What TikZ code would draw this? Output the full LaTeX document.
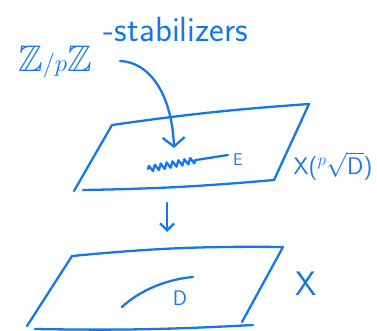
\documentclass[tikz,border=0pt]{standalone}
\usepackage{amssymb}
\usetikzlibrary{arrows.meta,decorations.pathmorphing}
\definecolor{pen}{RGB}{22,120,232}
\tikzset{
  ink/.style={color=pen, line width=2.3pt, line cap=round, line join=round},
  barb/.style={-{Straight Barb[length=9pt,width=22pt,line width=2.3pt]}}
}
\begin{document}
\begin{tikzpicture}[x=1pt,y=-1pt,ink]
    \useasboundingbox (0,0) rectangle (377,331);
    % upper sheet
    \coordinate (ul) at (112,125);
    \coordinate (ur) at (309,104);
    \coordinate (lr) at (274,180);
    \coordinate (ll) at (74,191);
    \draw (ll) -- (ul) to[bend left=2] (ur) -- (lr);
    \draw (83,190) to[bend right=2] (lr);
    % lower sheet
    \coordinate (bul) at (72,256);
    \coordinate (bur) at (283,247);
    \coordinate (blr) at (242,322);
    \coordinate (bll) at (27,326);
    \draw (bll) -- (bul) to[bend left=3] (bur) -- (blr);
    \draw (35,329) to[bend right=2] (253,325);
    % labels
    \node[text=pen,font=\fontsize{37}{40}\selectfont] (zpz) at (55,62) {$\mathbb{Z}/p\mathbb{Z}$};
    \node[text=pen,font=\sffamily\fontsize{35}{40}\selectfont] (stab) at (176,29) {-stabilizers};
    \node[text=pen,font=\sffamily\fontsize{17}{20}\selectfont] (E) at (238,160) {E};
    \node[text=pen,font=\sffamily\fontsize{24}{28}\selectfont,inner sep=1pt] (Xroot) at (333,166) {X(${}^{p}\sqrt{\textsf{D}}$)};
    \node[text=pen,font=\sffamily\fontsize{34}{38}\selectfont] (X) at (306,284) {X};
    \node[text=pen,font=\sffamily\fontsize{21}{24}\selectfont] (D) at (180,298) {D};
    % the curve E and the curve D
    \draw[decorate,decoration={zigzag,segment length=6pt,amplitude=3pt}] (148,169) -- (196,160);
    \draw (196,160) -- (228,155);
    \draw (122,307) .. controls (140,290) and (168,279) .. (193,277);
    % arrows
    \coordinate (tip) at (174,148);
    \draw[barb] (120,61) .. controls (150,62) and (172,95) .. (tip);
    \coordinate (down top) at (167,203);
    \coordinate (down bot) at (167,232);
    \draw[-{Straight Barb[length=7pt,width=14pt,line width=2.3pt]}] (down top) -- (down bot);
\end{tikzpicture}
\end{document}
